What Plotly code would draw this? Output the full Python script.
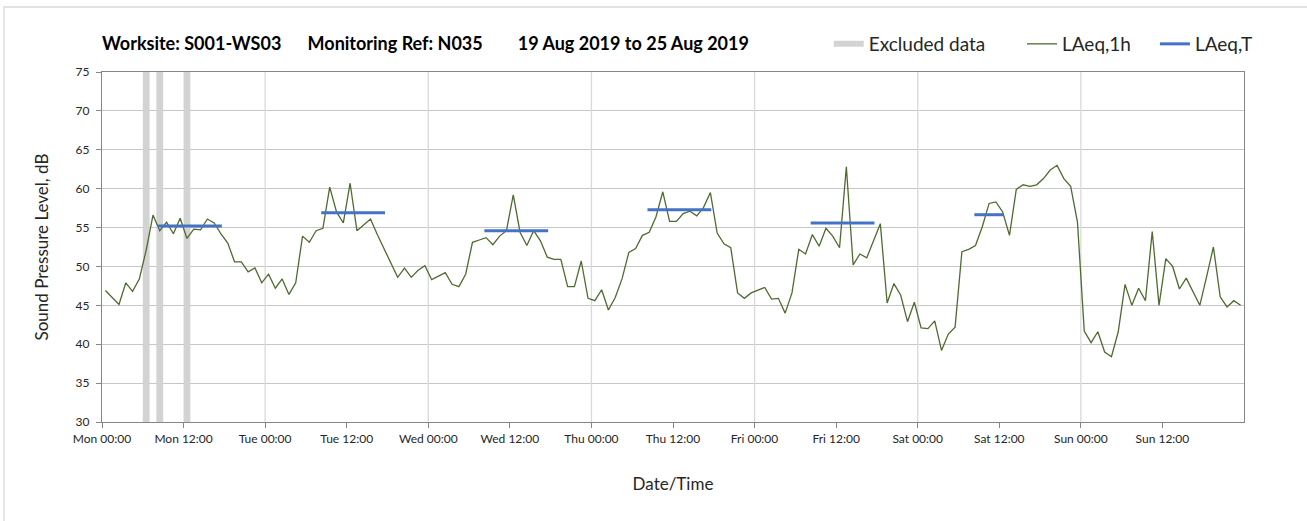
import pandas as pd
import plotly.graph_objects as go

# ---------------- data ----------------
LAEQ_1H = [
    # Mon
    46.9, 46.0, 45.1, 47.9, 46.8, 48.4, 52.1, 56.6, 54.6, 55.7, 54.2, 56.2,
    53.6, 54.8, 54.7, 56.1, 55.6, 54.2, 53.0, 50.6, 50.6, 49.3, 49.8, 47.9,
    # Tue
    49.0, 47.2, 48.4, 46.4, 47.9, 53.9, 53.1, 54.6, 54.9, 60.2, 57.0, 55.6,
    60.7, 54.6, 55.4, 56.1, 54.1, 52.3, 50.4, 48.6, 49.8, 48.6, 49.5, 50.1,
    # Wed
    48.3, 48.8, 49.2, 47.7, 47.4, 49.0, 53.1, 53.4, 53.7, 52.8, 53.9, 54.6,
    59.2, 54.4, 52.7, 54.6, 53.3, 51.2, 50.9, 50.9, 47.4, 47.4, 50.7, 45.9,
    # Thu
    45.6, 47.0, 44.4, 46.0, 48.4, 51.8, 52.3, 54.0, 54.4, 56.4, 59.6, 55.8,
    55.8, 56.8, 57.1, 56.5, 57.6, 59.5, 54.3, 52.9, 52.4, 46.6, 45.9, 46.6,
    # Fri
    46.9, 47.3, 45.8, 45.9, 44.0, 46.6, 52.2, 51.6, 54.1, 52.6, 54.9, 53.9,
    52.4, 62.8, 50.2, 51.6, 51.1, 53.4, 55.5, 45.3, 47.8, 46.3, 42.9, 45.4,
    # Sat
    42.1, 42.0, 43.0, 39.2, 41.3, 42.2, 51.9, 52.2, 52.7, 55.1, 58.1, 58.3,
    57.0, 54.0, 59.9, 60.5, 60.3, 60.5, 61.3, 62.4, 63.0, 61.3, 60.3, 55.7,
    # Sun
    41.7, 40.2, 41.6, 39.0, 38.4, 41.6, 47.7, 45.0, 47.2, 45.6, 54.5, 45.0,
    51.0, 50.0, 47.1, 48.5, 46.7, 45.0, 48.7, 52.5, 46.1, 44.8, 45.6, 45.0,
]
FIRST_SAMPLE = "2019-08-19 00:30"

EXCL_START = ["2019-08-19 06:00", "2019-08-19 08:00", "2019-08-19 12:00"]
EXCL_END = ["2019-08-19 07:00", "2019-08-19 09:00", "2019-08-19 13:00"]

LAEQT_START = ["2019-08-19 08:15", "2019-08-20 08:15", "2019-08-21 08:15",
               "2019-08-22 08:15", "2019-08-23 08:15", "2019-08-24 08:20"]
LAEQT_END = ["2019-08-19 17:38", "2019-08-20 17:38", "2019-08-21 17:38",
             "2019-08-22 17:38", "2019-08-23 17:38", "2019-08-24 12:38"]
LAEQT_VAL = [55.2, 56.9, 54.6, 57.3, 55.6, 56.65]

DAY_LINES = ["2019-08-20", "2019-08-21", "2019-08-22",
             "2019-08-23", "2019-08-24", "2019-08-25"]
X_TICKS_START = "2019-08-19 00:00"
N_X_TICKS = 14
X_RANGE = ["2019-08-19 00:00", "2019-08-26 00:00"]
Y_RANGE = [30, 75]

SP1 = "\u00a0" * 6
SP2 = "\u00a0" * 8
TITLE = "Worksite: S001-WS03" + SP1 + "Monitoring Ref: N035" + SP2 + "19 Aug 2019 to 25 Aug 2019"

FONT = "Lato"
TXT = "#262626"

# ---------------- figure ----------------
times = pd.date_range(FIRST_SAMPLE, periods=len(LAEQ_1H), freq="h")
tickvals = pd.date_range(X_TICKS_START, periods=N_X_TICKS, freq="12h")

fig = go.Figure()

# vertical day grid lines
gx, gy = [], []
for d in DAY_LINES:
    gx += [d, d, None]
    gy += [Y_RANGE[0], Y_RANGE[1], None]
fig.add_trace(go.Scatter(x=gx, y=gy, mode="lines", line=dict(color="#d9d9d9", width=1.3),
                         showlegend=False, hoverinfo="skip"))

# excluded data bands
ex, ey = [], []
for s, e in zip(EXCL_START, EXCL_END):
    ex += [s, s, e, e, s, None]
    ey += [Y_RANGE[0], Y_RANGE[1], Y_RANGE[1], Y_RANGE[0], Y_RANGE[0], None]
fig.add_trace(go.Scatter(x=ex, y=ey, mode="none", fill="toself", fillcolor="#d3d3d3",
                         name="Excluded data", legend="legend", hoverinfo="skip"))

# LAeq,1h
fig.add_trace(go.Scatter(x=times, y=LAEQ_1H, mode="lines",
                         line=dict(color="#4E6B30", width=1.3),
                         name="LAeq,1h", legend="legend2"))

# LAeq,T
tx, ty = [], []
for s, e, v in zip(LAEQT_START, LAEQT_END, LAEQT_VAL):
    tx += [s, e, None]
    ty += [v, v, None]
fig.add_trace(go.Scatter(x=tx, y=ty, mode="lines",
                         line=dict(color="#4472C4", width=3),
                         name="LAeq,T", legend="legend3"))

legend_common = dict(orientation="h", yanchor="middle", y=1.08, xanchor="left",
                     font=dict(family=FONT, size=19, color=TXT),
                     bgcolor="rgba(0,0,0,0)", borderwidth=0)

fig.update_layout(
    width=1307, height=521, autosize=False,
    margin=dict(l=102, r=63, t=72, b=99, pad=0),
    paper_bgcolor="white", plot_bgcolor="white",
    font=dict(family=FONT, color=TXT),
    title=dict(text="<b>" + TITLE + "</b>", x=0, xref="paper", xanchor="left",
               y=1 - 44 / 521, yref="container", yanchor="middle",
               font=dict(family=FONT, size=18, color="#000000")),
    legend=dict(legend_common, x=0.6364),
    legend2=dict(legend_common, x=0.8056),
    legend3=dict(legend_common, x=0.9220),
    xaxis=dict(
        type="date", range=X_RANGE,
        tickmode="array", tickvals=tickvals, tickformat="%a %H:%M",
        ticks="outside", ticklen=5, tickcolor="#868686",
        showgrid=False, zeroline=False,
        showline=True, linecolor="#868686", linewidth=1.3, mirror=True,
        tickfont=dict(family=FONT, size=12, color=TXT),
        title=dict(text="Date/Time", font=dict(family=FONT, size=17, color=TXT), standoff=33),
    ),
    yaxis=dict(
        range=Y_RANGE, dtick=5, tick0=30,
        ticks="outside", ticklen=5, tickcolor="#868686", ticklabelstandoff=4,
        showgrid=True, gridcolor="#c6c6c6", gridwidth=1.3, zeroline=False,
        showline=True, linecolor="#868686", linewidth=1.3, mirror=True,
        tickfont=dict(family=FONT, size=12, color=TXT),
        title=dict(text="Sound Pressure Level, dB", font=dict(family=FONT, size=17, color=TXT),
                   standoff=22),
    ),
    shapes=[dict(type="rect", xref="paper", yref="paper",
                 x0=(4 - 102) / 1142, x1=(1320 - 102) / 1142,
                 y0=(422 - 540) / 350, y1=(422 - 7) / 350,
                 line=dict(color="#d9d9d9", width=1.3), fillcolor="rgba(0,0,0,0)",
                 layer="below")],
)

fig.write_html("out.html", config={"displayModeBar": False},
               post_script="document.body.style.margin='0';document.body.style.overflow='hidden';")
